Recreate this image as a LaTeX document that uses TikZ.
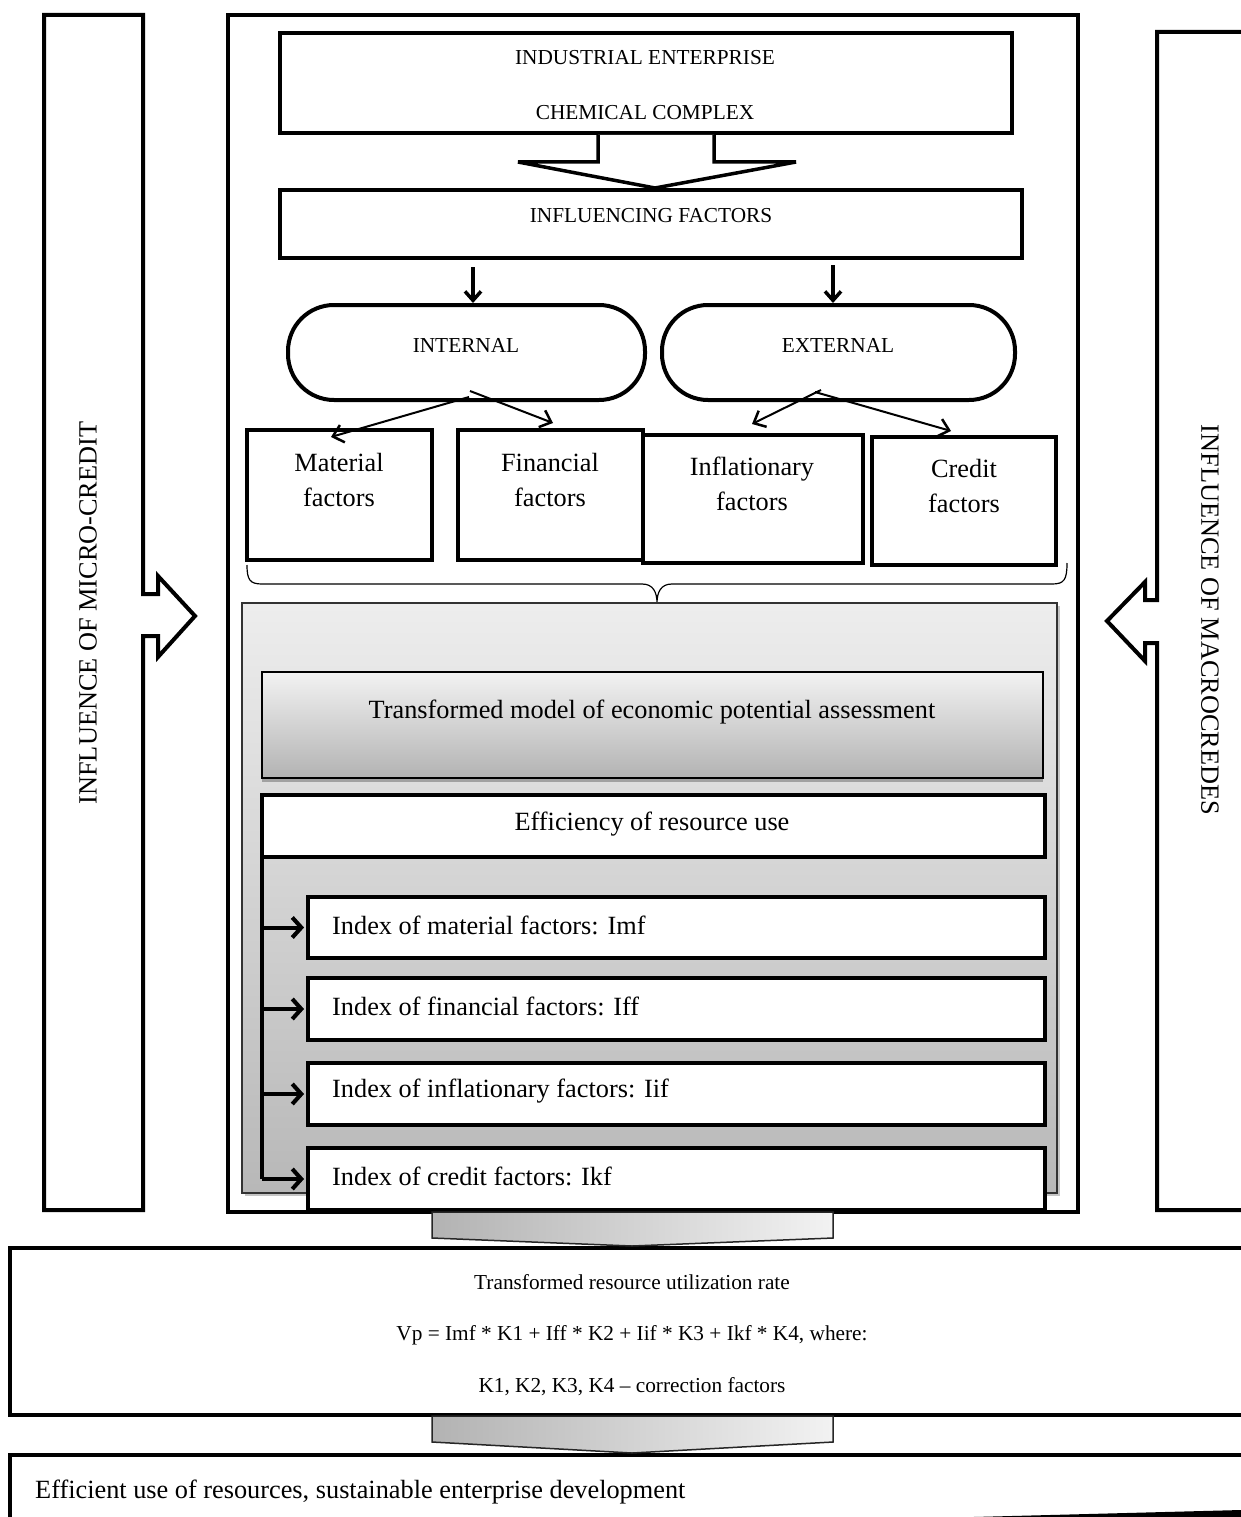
\documentclass[tikz,border=0pt]{standalone}
\usepackage{fontspec}
\setmainfont{Liberation Serif}
\usetikzlibrary{arrows.meta,shadows,calc}
\newcommand\capsz{\fontsize{21.3}{25}\selectfont}
\newcommand\midsz{\fontsize{21.3}{25}\selectfont}
\newcommand\bigsz{\fontsize{26.3}{35}\selectfont}
\begin{document}
\begin{tikzpicture}[x=1pt,y=-1pt,
  blk/.style={draw, line width=4pt, inner sep=0pt, fill=white},
  thinblk/.style={draw=black!80, line width=1.5pt, inner sep=0pt},
  oval/.style={draw, line width=4pt, inner sep=0pt, fill=white, rounded corners=46pt},
  caps/.style={inner sep=0pt, font=\capsz},
  big/.style={inner sep=0pt, font=\bigsz, align=center},
  mid/.style={inner sep=0pt, font=\midsz},
  outline/.style={draw, line width=4pt, line join=miter, fill=white},
  downarr/.style={line width=3.5pt, -{Straight Barb[length=9pt,width=16pt,line width=3.5pt]}},
  brarr/.style={line width=2pt, -{Straight Barb[length=10pt,width=18pt,line width=2.5pt]}},
  idxarr/.style={line width=4pt, -{Straight Barb[length=9pt,width=20pt,line width=4pt]}},
  chev/.style={draw=black!85, line width=1.5pt, line join=miter, left color=black!30, right color=black!5}]
\useasboundingbox (0,0) rectangle (1241,1517);
\clip (0,0) rectangle (1241,1517);

% side influence arrows
\draw[outline] (44,15) -- (143,15) -- (143,594) -- (158,594) -- (158,576) -- (195,616)
  -- (158,657) -- (158,636) -- (143,636) -- (143,1210) -- (44,1210) -- cycle;
\node[rotate=90, font=\bigsz, inner sep=0pt] (micro) at (88,613) {INFLUENCE OF MICRO-CREDIT};
\draw[outline] (1260,32) -- (1157,32) -- (1157,600) -- (1145,600) -- (1145,582) -- (1107,621)
  -- (1145,661) -- (1145,643) -- (1157,643) -- (1157,1210) -- (1260,1210);
\node[rotate=-90, font=\bigsz, inner sep=0pt] (macro) at (1210,620) {INFLUENCE OF MACROCREDES};

% enterprise frame
\node[blk, minimum width=850pt, minimum height=1197pt] (main) at (653,613.5) {};

\node[blk, minimum width=732pt, minimum height=100pt] (ent) at (646,83) {};
\node[caps] (ent1) at (645,58) {INDUSTRIAL ENTERPRISE};
\node[caps] (ent2) at (645,113) {CHEMICAL COMPLEX};

\node[blk, minimum width=742pt, minimum height=68pt] (inf) at (651,224) {};
\node[caps] (inftxt) at (651,216) {INFLUENCING FACTORS};

\draw[outline, line width=3.5pt] (ent.south -| 598,0) -- (598,162) -- (518,162) -- (inf.north -| 655,0)
  -- (796,162) -- (714,162) -- (ent.south -| 714,0);

\node[oval, minimum width=357pt, minimum height=95pt] (intl) at (466.5,352.5) {};
\node[caps] (intltxt) at (466,345) {INTERNAL};
\node[oval, minimum width=353pt, minimum height=95pt] (extl) at (838.5,352.5) {};
\node[caps] (extltxt) at (838,345) {EXTERNAL};

\coordinate (d1) at (473,267);
\coordinate (d2) at (833,265);
\draw[downarr] (d1) -- (d1 |- intl.north);
\draw[downarr] (d2) -- (d2 |- extl.north);

% factor boxes
\node[blk, minimum width=185pt, minimum height=130pt] (mat) at (339.5,495) {};
\node[big] (mattxt) at (339,480) {Material\\factors};
\node[blk, minimum width=185pt, minimum height=130pt] (fin) at (550.5,495) {};
\node[big] (fintxt) at (550,480) {Financial\\factors};
\node[blk, minimum width=220pt, minimum height=128pt] (infl) at (753,499) {};
\node[big] (infltxt) at (752,484) {Inflationary\\factors};
\node[blk, minimum width=184pt, minimum height=128pt] (cred) at (964,501) {};
\node[big] (credtxt) at (964,486) {Credit\\factors};

\coordinate (b1) at (469,397);
\coordinate (b2) at (470,391);
\coordinate (b3) at (821,390);
\coordinate (b4) at (815,392);
\draw[brarr] (b1) -- (331,437);
\draw[brarr] (b2) -- (553,423);
\draw[brarr] (b3) -- (752,424);
\draw[brarr] (b4) -- (951,431);

% brace under the factor boxes
\draw[line width=1.2pt] (247,565) .. controls (247,580) and (250,584) .. (262,584) -- (642,584)
  .. controls (653,584) and (657,592) .. (657,603) .. controls (657,592) and (661,584) .. (672,584)
  -- (1052,584) .. controls (1064,584) and (1067,580) .. (1067,563);

% assessment block
\node[thinblk, minimum width=815pt, minimum height=590pt, top color=black!7, bottom color=black!28,
  drop shadow={shadow xshift=3pt, shadow yshift=-3pt, fill=black!45}] (gray) at (649.5,898) {};
\node[thinblk, draw=black, minimum width=781pt, minimum height=106pt, top color=black!5, bottom color=black!30,
  drop shadow={shadow xshift=0pt, shadow yshift=-4pt, fill=black!60}] (model) at (652.5,725) {};
\node[big] (modeltxt) at (652,712) {Transformed model of economic potential assessment};

\node[blk, minimum width=783pt, minimum height=62pt] (eff) at (653.5,826) {};
\node[big] (efftxt) at (652,824) {Efficiency of resource use};

\node[blk, minimum width=737pt, minimum height=61pt] (idx1) at (676.5,927.5) {};
\node[blk, minimum width=737pt, minimum height=62pt] (idx2) at (676.5,1009) {};
\node[blk, minimum width=737pt, minimum height=62pt] (idx3) at (676.5,1094) {};
\node[blk, minimum width=737pt, minimum height=62pt] (idx4) at (676.5,1179) {};
\node[big, anchor=west] (idx1t) at (332,925) {Index of material factors: Imf};
\node[big, anchor=west] (idx2t) at (332,1006) {Index of financial factors: Iff};
\node[big, anchor=west] (idx3t) at (332,1091) {Index of inflationary factors: Iif};
\node[big, anchor=west] (idx4t) at (332,1176) {Index of credit factors: Ikf};

\coordinate (spine) at ([xshift=2pt]eff.south west);
\draw[line width=4pt] (spine) -- (spine |- idx4.west);
\foreach \n in {idx1,idx2,idx3,idx4}{
  \draw[idxarr, black!45, shift={(2,3)}] (spine |- \n.west) -- ([xshift=-2pt]\n.west);
  \draw[idxarr] (spine |- \n.west) -- ([xshift=-2pt]\n.west);
}

% result blocks
\node[blk, minimum width=1260pt, minimum height=167pt] (rate) at (640,1331.5) {};
\node[mid] (rate1) at (632,1282) {Transformed resource utilization rate};
\node[mid] (rate2) at (632,1335) {Vp = Imf * K1 + Iff * K2 + Iif * K3 + Ikf * K4, where:};
\node[mid] (rate3) at (632,1387) {K1, K2, K3, K4 -- correction factors};

\node[blk, minimum width=1260pt, minimum height=105pt] (res) at (640,1507.5) {};
\node[big, anchor=west] (restxt) at (35,1492) {Efficient use of resources, sustainable enterprise development};
\fill (935,1518) -- (1241,1510) -- (1241,1518) -- cycle;

% chevrons between blocks
\draw[chev] (432,1212) -- (833,1212) -- (833,1238) -- (rate.north -| 632,0) -- (432,1238) -- cycle;
\draw[chev] (432,1416) -- (833,1416) -- (833,1442) -- (res.north -| 632,0) -- (432,1442) -- cycle;
\end{tikzpicture}
\end{document}
